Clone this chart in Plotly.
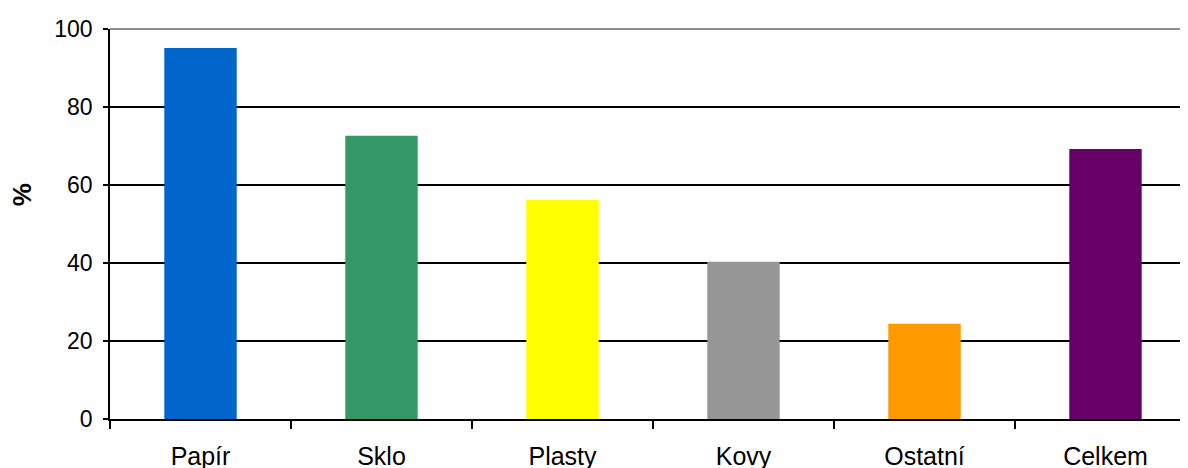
import plotly.graph_objects as go

categories = ["Papír", "Sklo", "Plasty", "Kovy", "Ostatní", "Celkem"]
values = [95.1, 72.6, 56.2, 40.3, 24.4, 69.2]
colors = ["#0066CC", "#339966", "#FFFF00", "#969696", "#FF9900", "#660066"]
y_ticks = [0, 20, 40, 60, 80, 100]

fig = go.Figure(go.Bar(x=categories, y=values, marker=dict(color=colors, line=dict(width=0)),
                       width=0.4, hoverinfo="x+y"))

fig.update_layout(
    width=1188, height=468,
    margin=dict(l=102, r=0, t=21, b=57),
    paper_bgcolor="white", plot_bgcolor="white",
    font=dict(family="Liberation Sans, Arial, sans-serif", color="black"),
    showlegend=False,
)
fig.update_xaxes(
    range=[-0.5, 5.5], showline=True, linecolor="black", linewidth=1.5,
    ticks="outside", tickson="boundaries", ticklen=8, tickwidth=1.5, tickcolor="black",
    tickfont=dict(size=25), showgrid=False, ticklabelstandoff=14,
)
fig.update_yaxes(
    range=[0, 100], tickvals=y_ticks, showline=True, linecolor="black", linewidth=1.5,
    ticks="outside", ticklen=5, tickwidth=1.5, tickcolor="black",
    tickfont=dict(size=23), showgrid=True, gridcolor="black", gridwidth=1.5,
    zeroline=False, ticklabelstandoff=6,
)
fig.add_annotation(text="<b>%</b>", xref="paper", yref="paper", x=-0.081, y=0.574,
                   textangle=-90, showarrow=False, font=dict(size=26),
                   xanchor="center", yanchor="middle")
fig.add_shape(type="line", xref="x domain", yref="y domain", x0=0, x1=1, y0=1, y1=1,
              line=dict(color="#8c8c8c", width=2), layer="above")

fig.write_html("out.html")
